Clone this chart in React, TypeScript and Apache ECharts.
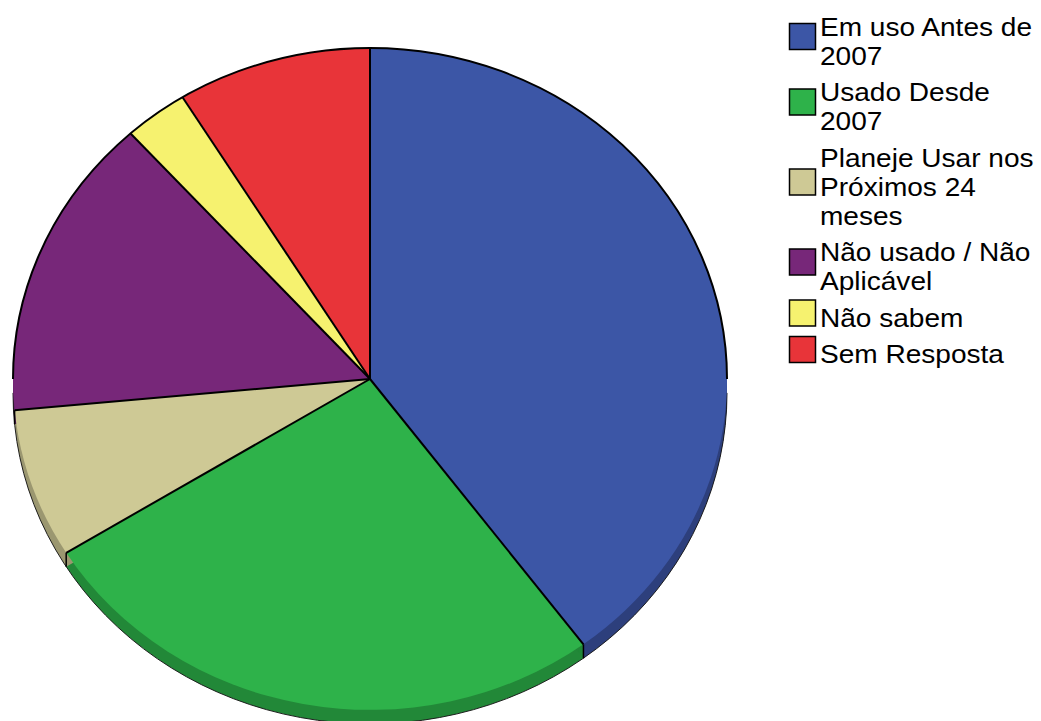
import React, { useEffect, useRef } from "react";
import * as echarts from "echarts";

const categories = [
  "Em uso Antes de\n2007",
  "Usado Desde\n2007",
  "Planeje Usar nos\nPróximos 24\nmeses",
  "Não usado / Não\nAplicável",
  "Não sabem",
  "Sem Resposta",
];
const values = [39.8, 26.4, 7.3, 14.8, 2.9, 8.8];
const colors = ["#3c56a6", "#2eb24a", "#cec995", "#772779", "#f6f26f", "#e83439"];
const sideColors = ["#2d3f7c", "#228838", "#9b9770", "#561c58", "#b8b553", "#ad262a"];

const CX = 370;
const CY = 379;
const RX = 357;
const RY = 331;
const DEPTH = 14;

const FONT_SIZE = 25.5;
const LINE_H = 29;
const TEXT_X = 820;
const SQ_X = 789.5;
const SQ = 26;

export default function App() {
  const ref = useRef<HTMLDivElement>(null);

  useEffect(() => {
    if (!ref.current) return;
    const chart = echarts.init(ref.current, undefined, { renderer: "svg" });
    const total = values.reduce((a, b) => a + b, 0);
    const sy = RY / RX;

    const series = categories.map((name, i) => {
      const before = values.slice(0, i).reduce((a, b) => a + b, 0);
      return {
        type: "custom",
        name,
        coordinateSystem: "none",
        silent: true,
        data: [[values[i]]],
        itemStyle: { color: colors[i] },
        renderItem: (params: any, api: any) => {
          const v = api.value(0);
          const a0 = -Math.PI / 2 + (2 * Math.PI * before) / total;
          const a1 = a0 + (2 * Math.PI * v) / total;
          const children: any[] = [];
          for (let k = 1; k <= DEPTH; k++) {
            children.push({
              type: "sector",
              shape: { cx: CX, cy: CY, r0: 0, r: RX, startAngle: a0, endAngle: a1, clockwise: true },
              originX: CX,
              originY: CY,
              scaleY: sy,
              y: k,
              style: { fill: sideColors[i] },
              z2: 1,
            });
          }
          children.push({
            type: "sector",
            shape: { cx: CX, cy: CY, r0: 0, r: RX, startAngle: a0, endAngle: a1, clockwise: true },
            originX: CX,
            originY: CY,
            scaleY: sy,
            style: { fill: colors[i] },
            z2: 10,
          });
          const px = CX + RX * Math.cos(a0);
          const py = CY + RY * Math.sin(a0);
          children.push({
            type: "line",
            shape: { x1: CX, y1: CY, x2: px, y2: py },
            style: { stroke: "#000", lineWidth: 2 },
            z2: 20,
          });
          if (Math.sin(a0) > 0.05) {
            children.push({
              type: "line",
              shape: { x1: px, y1: py, x2: px, y2: py + DEPTH },
              style: { stroke: "#000", lineWidth: 1.5 },
              z2: 20,
            });
          }
          if (i === 0) {
            children.push({
              type: "arc",
              shape: { cx: CX, cy: CY, r: RX, startAngle: Math.PI, endAngle: 2 * Math.PI, clockwise: true },
              originX: CX,
              originY: CY,
              scaleY: sy,
              style: { stroke: "#000", lineWidth: 2, fill: "none" },
              z2: 20,
            });
            children.push({
              type: "arc",
              shape: { cx: CX, cy: CY, r: RX, startAngle: 0, endAngle: Math.PI, clockwise: true },
              originX: CX,
              originY: CY,
              scaleY: sy,
              y: DEPTH,
              style: { stroke: "#1a1a1a", lineWidth: 1, fill: "none" },
              z2: 5,
            });
          }
          return { type: "group", children };
        },
      };
    });

    // legend drawn as graphic elements, laid out from the category labels
    const legendEls: any[] = [];
    let baseline = 36;
    categories.forEach((name, i) => {
      const lines = name.split("\n");
      const baselines = lines.map((_, j) => baseline + j * LINE_H);
      const mean = baselines.reduce((a, b) => a + b, 0) / baselines.length;
      const sqCenter = mean - 14;
      legendEls.push({
        type: "rect",
        shape: { x: SQ_X, y: sqCenter - SQ / 2, width: SQ, height: SQ },
        style: { fill: colors[i], stroke: "#000", lineWidth: 1.5 },
      });
      lines.forEach((line, j) => {
        legendEls.push({
          type: "text",
          x: TEXT_X,
          y: baselines[j] - 0.3465 * FONT_SIZE,
          scaleX: 1.1,
          style: {
            text: line,
            fill: "#000",
            font: `${FONT_SIZE}px "Liberation Sans", Arial, sans-serif`,
            textAlign: "left",
            textVerticalAlign: "middle",
          },
        });
      });
      baseline = baselines[baselines.length - 1] + 36.5;
    });

    chart.setOption({
      animation: false,
      color: colors,
      graphic: { elements: legendEls },
      series,
    } as any);

    return () => chart.dispose();
  }, []);

  return (
    <div
      ref={ref}
      style={{ position: "fixed", left: 0, top: 0, width: 1041, height: 721, background: "#fff" }}
    />
  );
}
